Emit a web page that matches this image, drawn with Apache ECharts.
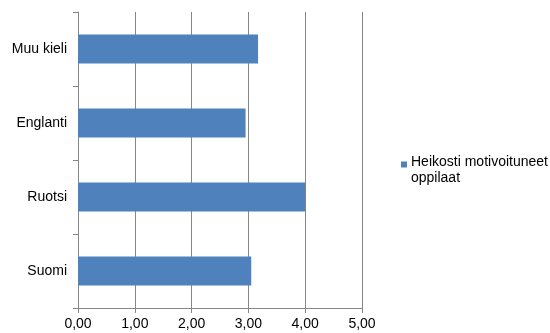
<!DOCTYPE html>
<html>
<head>
<meta charset="utf-8">
<script src="https://cdn.jsdelivr.net/npm/echarts@6/dist/echarts.min.js"></script>
<style>
  html, body { margin: 0; padding: 0; background: #fff; }
  #chart { width: 550px; height: 333px; }
</style>
</head>
<body>
<div id="chart"></div>
<script>
// Language categories, bottom to top
const categories = ['Suomi', 'Ruotsi', 'Englanti', 'Muu kieli'];
// Mean values for weakly motivated students
const seriesName = 'Heikosti motivoituneet oppilaat';
const values = [3.05, 4.00, 2.95, 3.17];
// Value axis range
const xMin = 0, xMax = 5, xStep = 1;

const chart = echarts.init(document.getElementById('chart'), null, { renderer: 'canvas' });
const font = '"Liberation Sans", Arial, sans-serif';
const gridGray = '#868686';

chart.setOption({
  animation: false,
  backgroundColor: '#ffffff',
  grid: { left: 78, right: 188, top: 12, bottom: 25, containLabel: false },
  xAxis: {
    type: 'value',
    min: xMin, max: xMax, interval: xStep,
    axisLine: { show: true, lineStyle: { color: gridGray, width: 1 } },
    axisTick: { show: true, length: 5, lineStyle: { color: gridGray } },
    splitLine: { show: true, lineStyle: { color: gridGray, width: 1 } },
    axisLabel: {
      margin: 9, color: '#000', fontFamily: font, fontSize: 14,
      formatter: v => v.toFixed(2).replace('.', ',')
    }
  },
  yAxis: {
    type: 'category',
    data: categories,
    axisLine: { show: true, lineStyle: { color: gridGray, width: 1 } },
    axisTick: { show: true, length: 5, alignWithLabel: false, lineStyle: { color: gridGray } },
    axisLabel: { margin: 11, color: '#000', fontFamily: font, fontSize: 14 }
  },
  legend: {
    left: 401, top: 154,
    padding: 0,
    orient: 'vertical',
    itemWidth: 6, itemHeight: 32,
    itemGap: 0,
    // small square near the top of a box as tall as the two text lines
    icon: 'path://M0,0L0,0 M0,7.5L6,7.5L6,13.5L0,13.5Z M0,32L0,32',
    formatter: () => 'Heikosti motivoituneet\noppilaat',
    textStyle: { color: '#000', fontFamily: font, fontSize: 14, lineHeight: 16, padding: [0, 0, 0, -1] },
    data: [seriesName]
  },
  series: [{
    name: seriesName,
    type: 'bar',
    data: values,
    barWidth: '39%',
    itemStyle: { color: '#4F81BD' }
  }]
});
</script>
</body>
</html>
